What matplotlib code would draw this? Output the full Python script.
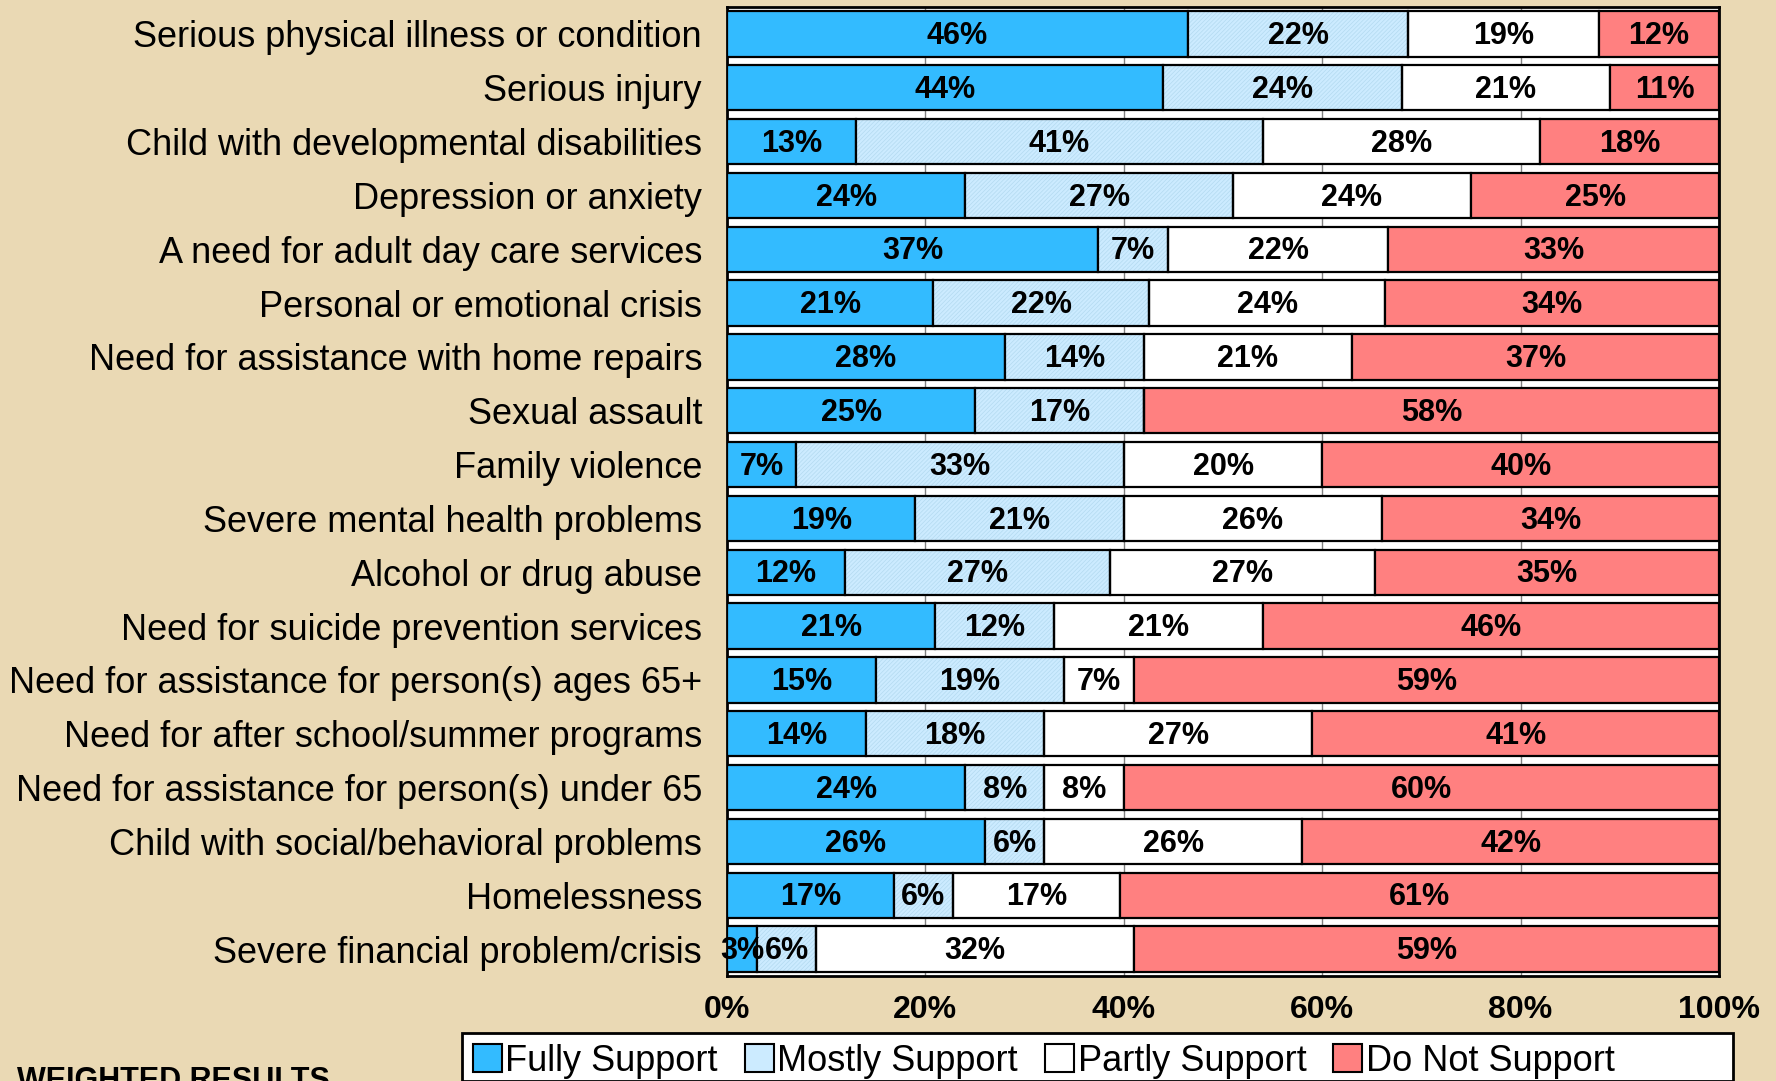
import matplotlib
matplotlib.use("Agg")
import matplotlib.pyplot as plt
import numpy as np
from matplotlib.patches import Patch, Rectangle

categories = [
    "Serious physical illness or condition",
    "Serious injury",
    "Child with developmental disabilities",
    "Depression or anxiety",
    "A need for adult day care services",
    "Personal or emotional crisis",
    "Need for assistance with home repairs",
    "Sexual assault",
    "Family violence",
    "Severe mental health problems",
    "Alcohol or drug abuse",
    "Need for suicide prevention services",
    "Need for assistance for person(s) ages 65+",
    "Need for after school/summer programs",
    "Need for assistance for person(s) under 65",
    "Child with social/behavioral problems",
    "Homelessness",
    "Severe financial problem/crisis",
]
fully = [46, 44, 13, 24, 37, 21, 28, 25, 7, 19, 12, 21, 15, 14, 24, 26, 17, 3]
mostly = [22, 24, 41, 27, 7, 22, 14, 17, 33, 21, 27, 12, 19, 18, 8, 6, 6, 6]
partly = [19, 21, 28, 24, 22, 24, 21, 0, 20, 26, 27, 21, 7, 27, 8, 26, 17, 32]
not_support = [12, 11, 18, 25, 33, 34, 37, 58, 40, 34, 35, 46, 59, 41, 60, 42, 61, 59]
series_names = ["Fully Support", "Mostly Support", "Partly Support", "Do Not Support"]
xtick_labels = ["0%", "20%", "40%", "60%", "80%", "100%"]

colors = ["#33BBFF", "#CCEBFF", "#FFFFFF", "#FF8080"]

plt.rcParams['font.family'] = ['Liberation Sans', 'DejaVu Sans']
plt.rcParams['hatch.linewidth'] = 0.5

fig = plt.figure(figsize=(17.76, 10.81), dpi=100)
bg = "#EAD9B4"
fig.patch.set_facecolor(bg)
W, H = 1776, 1081
left, right, top, bottom = 727, 1719, 7, 976
ax = fig.add_axes([left / W, 1 - bottom / H, (right - left) / W, (bottom - top) / H])
ax.set_facecolor("white")

data = np.array([fully, mostly, partly, not_support], dtype=float)
totals = data.sum(axis=0)
norm = data / totals * 100
y = np.arange(len(categories))
cum = np.zeros(len(categories))
for i in range(4):
    if i == 1:
        ax.barh(y, norm[i], left=cum, height=0.84, color=colors[i],
                edgecolor="#B3DAF0", linewidth=0, hatch="////////", zorder=3)
        ax.barh(y, norm[i], left=cum, height=0.84, fill=False,
                edgecolor="black", linewidth=1.6, zorder=3.1)
    else:
        ax.barh(y, norm[i], left=cum, height=0.84, color=colors[i],
                edgecolor="black", linewidth=1.6, zorder=3)
    for j in range(len(categories)):
        if data[i, j] > 0:
            ax.text(cum[j] + norm[i, j] / 2, y[j] + 0.04, f"{int(data[i, j])}%",
                    ha="center", va="center", fontsize=22, fontweight="bold",
                    zorder=4, color="black")
    cum += norm[i]

ax.set_xlim(0, 100)
ax.set_ylim(len(categories) - 0.5, -0.5)
ax.set_xticks([0, 20, 40, 60, 80, 100])
ax.set_xticklabels(xtick_labels, fontsize=23, fontweight="bold")
ax.set_yticks(y)
ax.set_yticklabels(categories, fontsize=26)
ax.tick_params(axis="x", length=0, pad=14)
ax.tick_params(axis="y", length=0, pad=18)
ax.xaxis.grid(True, color="#808080", linewidth=1, zorder=0)
ax.set_axisbelow(True)
for s in ax.spines.values():
    s.set_linewidth(2)
    s.set_color("black")

# legend box
fig.patches.append(Rectangle((462 / W, 0), (1733 - 462) / W, (H - 1033) / H,
                             transform=fig.transFigure, facecolor="white",
                             edgecolor="black", linewidth=2, zorder=1))
handles = [Patch(facecolor=colors[i], edgecolor="black", linewidth=1.5) for i in range(4)]
leg = fig.legend(handles, series_names, loc="upper left",
                 bbox_to_anchor=(462 / W, 1 - 1033 / H), ncol=4, fontsize=26,
                 frameon=False, handlelength=0.8, handleheight=0.8, handletextpad=0.1,
                 columnspacing=0.75, borderpad=0.3, borderaxespad=0)
leg.set_zorder(2)

fig.text(17 / W, 1 - 1081 / H, "WEIGHTED RESULTS", fontsize=22, fontweight="bold",
         ha="left", va="center")

fig.savefig("out.png", dpi=100, facecolor=fig.get_facecolor())
